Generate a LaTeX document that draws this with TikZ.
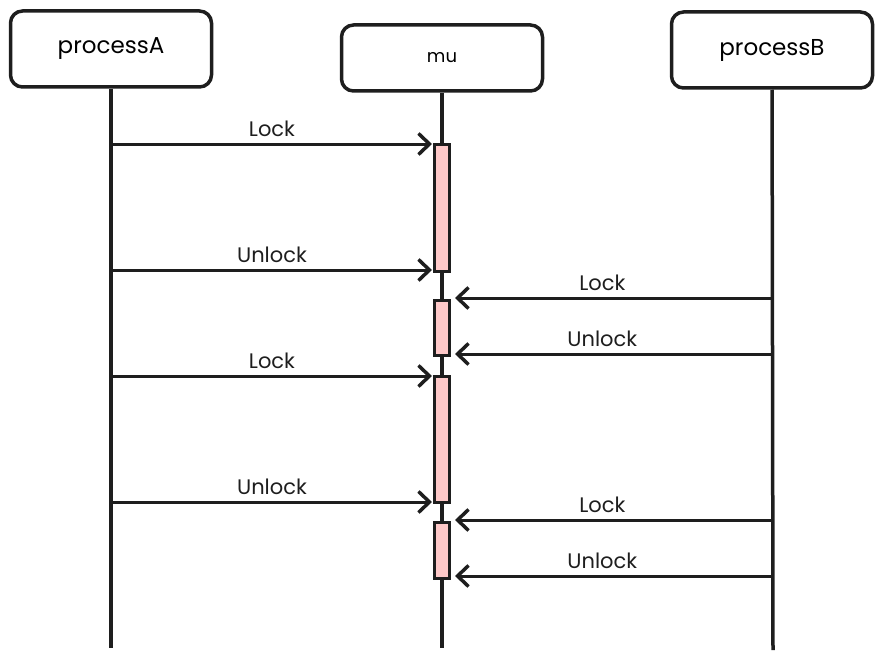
\documentclass[tikz,border=0pt]{standalone}
\usepackage{fontspec}
\setmainfont{Poppins}
\usepackage{xcolor}
\usetikzlibrary{arrows,arrows.meta}
\definecolor{ink}{HTML}{1E1E1E}
\definecolor{barpink}{HTML}{FFC9C9}
\begin{document}
\begin{tikzpicture}[x=1pt,y=-1pt,>={Straight Barb[length=11pt,width=21pt,line width=3.5pt]},
  head node/.style={rectangle,rounded corners=12pt,draw=ink,line width=3.5pt,minimum width=201pt,minimum height=76pt,font=\fontsize{23}{27}\selectfont},
  bar node/.style={rectangle,draw=ink,fill=barpink,line width=3pt,minimum width=15pt,inner sep=0pt},
  life/.style={draw=ink,line width=3.5pt},
  msg/.style={->,draw=ink,line width=3pt,shorten >=1pt},
  lbl/.style={font=\fontsize{21}{25}\selectfont,text=ink}]

\useasboundingbox (0,0) rectangle (884,661);

\foreach \place/\name/\txt in {{(111,49)/A/processA}, {(772,50)/B/processB}}
	\node[head node] (\name) at \place {\txt};
\node[head node,minimum height=66pt,font=\fontsize{18}{21}\selectfont] (mu) at (442,58) {mu};

\coordinate (Aend) at (111,648);
\coordinate (muend) at (442,648);
\coordinate (Bend) at (773,650);
\foreach \source/\dest in {A/Aend, mu/muend, B/Bend}
	\path[life] (\source) -- (\dest);

\foreach \name/\y/\h in {1/207.5/127, 2/327.5/55, 3/439/126, 4/550/56}
	\node[bar node,minimum height=\h pt] (bar\name) at (442,\y) {};

\foreach \y/\bar/\txt in {144/1/Lock, 270/1/Unlock, 376/3/Lock, 502/3/Unlock}{
	\coordinate (from) at (111,\y);
	\draw[msg] (from) -- (from -| bar\bar.west) node[lbl,midway,above=2pt] {\txt};
}
\foreach \y/\bar/\txt in {298/2/Lock, 354/2/Unlock, 520/4/Lock, 576/4/Unlock}{
	\coordinate (from) at (773,\y);
	\draw[msg,shorten >=4pt] (from) -- (from -| bar\bar.east) node[lbl,pos=0.53,above=2pt] {\txt};
}
\end{tikzpicture}
\end{document}
